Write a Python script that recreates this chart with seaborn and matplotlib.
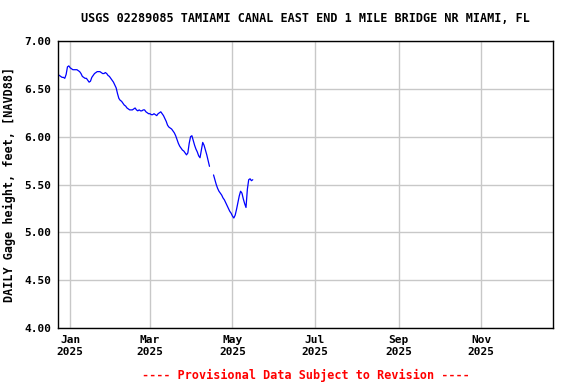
import matplotlib
matplotlib.use("Agg")
import matplotlib.pyplot as plt
import matplotlib.dates as mdates
import numpy as np
import pandas as pd
import seaborn as sns

TITLE = "USGS 02289085 TAMIAMI CANAL EAST END 1 MILE BRIDGE NR MIAMI, FL"
YLABEL = "DAILY Gage height, feet, [NAVD88]"
NOTE = "---- Provisional Data Subject to Revision ----"

START = "2024-12-23"
# daily values (nan = missing day)
dec = [6.65, 6.64, 6.63, 6.62, 6.62, 6.61, 6.65, 6.73, 6.74]
jan = [6.72, 6.71, 6.70, 6.70, 6.70, 6.70, 6.69, 6.68, 6.66, 6.63,
       6.62, 6.61, 6.61, 6.59, 6.57, 6.58, 6.62, 6.64, 6.66, 6.67,
       6.68, 6.68, 6.68, 6.67, 6.66, 6.66, 6.67, 6.66, 6.64, 6.63, 6.61]
feb = [6.59, 6.57, 6.54, 6.51, 6.45, 6.40, 6.38, 6.37, 6.35, 6.33,
       6.32, 6.30, 6.29, 6.28, 6.28, 6.28, 6.29, 6.30, 6.28, 6.27,
       6.28, 6.27, 6.27, 6.28, 6.28, 6.26, 6.25, 6.24]
mar = [6.24, 6.23, 6.23, 6.24, 6.23, 6.22, 6.24, 6.25, 6.26, 6.24,
       6.22, 6.19, 6.16, 6.12, 6.10, 6.09, 6.08, 6.06, 6.04, 6.01,
       5.97, 5.93, 5.90, 5.88, 5.86, 5.85, 5.83, 5.81, 5.83, 5.93, 6.00]
apr = [6.01, 5.96, 5.91, 5.87, 5.84, 5.80, 5.78, 5.86, 5.94, 5.91,
       5.86, 5.81, 5.75, 5.69, np.nan, np.nan, 5.60, 5.55, 5.50, 5.46,
       5.43, 5.41, 5.39, 5.36, 5.34, 5.31, 5.28, 5.25, 5.22, 5.20]
may = [5.17, 5.15, 5.18, 5.24, 5.31, 5.38, 5.43, 5.41, 5.35, 5.30,
       5.26, 5.45, 5.55, 5.56, 5.54, 5.55]

values = dec + jan + feb + mar + apr + may
df = pd.DataFrame({"date": pd.date_range(START, periods=len(values), freq="D"),
                   "height": values})
# seaborn drops NaNs, so give each unbroken run its own unit to keep the gap
df["segment"] = df["height"].isna().cumsum()
df = df.dropna()

sns.set_style("white")
plt.rcParams["font.family"] = ["DejaVu Sans Mono"]
plt.rcParams["font.weight"] = "bold"
for k in ["text.color", "axes.labelcolor", "xtick.color", "ytick.color"]:
    plt.rcParams[k] = "black"

fig = plt.figure(figsize=(5.76, 3.84), dpi=100)
ax = fig.add_axes([0.1007, 0.1458, 0.8594, 0.7474])

sns.lineplot(data=df, x="date", y="height", units="segment", ax=ax,
             color="#0000ff", lw=0.9, estimator=None)

ax.set_ylim(4.0, 7.0)
ax.set_yticks(np.arange(4.0, 7.01, 0.5))
ax.yaxis.set_major_formatter(matplotlib.ticker.FormatStrFormatter("%.2f"))
ax.set_xlim(pd.Timestamp("2024-12-23"), pd.Timestamp("2025-12-24"))
ax.xaxis.set_major_locator(mdates.MonthLocator(bymonth=[1, 3, 5, 7, 9, 11]))
ax.xaxis.set_major_formatter(mdates.DateFormatter("%b\n%Y"))

ax.grid(True, color="#c8c8c8", lw=1)
ax.tick_params(length=0, labelsize=8, pad=5)
for lab in ax.get_xticklabels() + ax.get_yticklabels():
    lab.set_fontweight("bold")
for s in ax.spines.values():
    s.set_color("black")
    s.set_linewidth(1)

ax.set_xlabel("")
ax.set_ylabel(YLABEL, fontsize=8.5, fontweight="bold", labelpad=6)
ax.set_title(TITLE, fontsize=8.5, fontweight="bold", pad=14)
fig.text(0.531, 0.023, NOTE, color="red", fontsize=8.5, fontweight="bold",
         ha="center", va="center")

fig.savefig("out.png", dpi=100)
